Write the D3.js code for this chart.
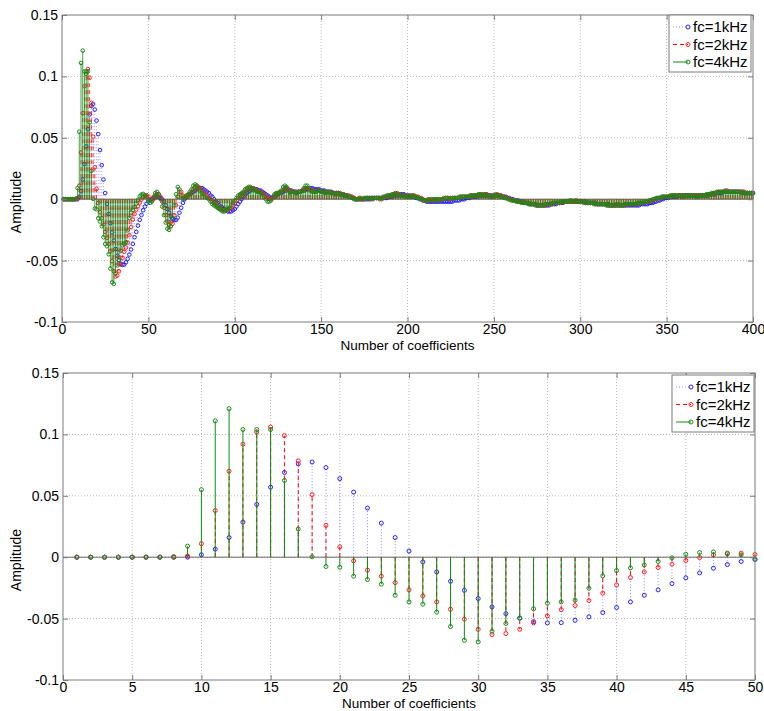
<!DOCTYPE html>
<html>
<head>
<meta charset="utf-8">
<script src="https://cdn.jsdelivr.net/npm/d3@7/dist/d3.min.js"></script>
<style>
  body { margin: 0; background: #fff; }
  svg { display: block; font-family: "Liberation Sans", Arial, sans-serif; }
</style>
</head>
<body>
<div class="box"></div>
<script>
// amplitude of coefficient 1..400 for each cut-off frequency
const fc1k = [
  0, 0, 0, 0, 0, 0, 0, 0, 0, 0.002,
  0.0065, 0.016, 0.0285, 0.043, 0.057, 0.069, 0.076, 0.0775, 0.073, 0.064,
  0.053, 0.040, 0.0277, 0.016, 0.005, -0.0038, -0.012, -0.0196, -0.027, -0.0337,
  -0.0405, -0.046, -0.0497, -0.0525, -0.0535, -0.0533, -0.0514, -0.0486, -0.0451, -0.041,
  -0.0364, -0.031, -0.0266, -0.0215, -0.0168, -0.0128, -0.009, -0.006, -0.0035, -0.0019,
  -0.001, 0.000, 0.001, 0.002, 0.002, 0.002, 0.001, 0.000, -0.002, -0.005,
  -0.008, -0.011, -0.014, -0.016, -0.017, -0.017, -0.015, -0.011, -0.007, -0.003,
  0.000, 0.002, 0.003, 0.004, 0.005, 0.006, 0.007, 0.008, 0.009, 0.009,
  0.009, 0.008, 0.007, 0.006, 0.005, 0.003, 0.002, 0.000, -0.002, -0.003,
  -0.005, -0.006, -0.007, -0.008, -0.009, -0.010, -0.010, -0.010, -0.009, -0.008,
  -0.006, -0.004, -0.002, 0.000, 0.002, 0.004, 0.005, 0.006, 0.007, 0.008,
  0.008, 0.008, 0.008, 0.007, 0.007, 0.006, 0.005, 0.004, 0.003, 0.002,
  0.001, 0.001, 0.002, 0.003, 0.004, 0.005, 0.005, 0.006, 0.007, 0.008,
  0.008, 0.007, 0.007, 0.006, 0.006, 0.006, 0.006, 0.006, 0.007, 0.007,
  0.008, 0.008, 0.009, 0.009, 0.009, 0.008, 0.008, 0.008, 0.008, 0.007,
  0.007, 0.007, 0.006, 0.006, 0.006, 0.006, 0.005, 0.005, 0.005, 0.005,
  0.004, 0.004, 0.004, 0.003, 0.003, 0.002, 0.002, 0.001, 0.001, 0.000,
  0.000, 0.000, 0.000, 0.000, 0.000, 0.000, 0.000, 0.000, 0.001, 0.001,
  0.001, 0.001, 0.001, 0.001, 0.001, 0.001, 0.001, 0.001, 0.002, 0.002,
  0.002, 0.003, 0.003, 0.003, 0.004, 0.004, 0.004, 0.004, 0.003, 0.003,
  0.003, 0.002, 0.002, 0.002, 0.001, 0.001, 0.000, 0.000, -0.001, -0.001,
  -0.002, -0.002, -0.002, -0.002, -0.002, -0.002, -0.002, -0.002, -0.002, -0.002,
  -0.002, -0.002, -0.002, -0.002, -0.002, -0.002, -0.001, -0.001, -0.001, -0.001,
  0.000, 0.000, 0.000, 0.001, 0.001, 0.001, 0.002, 0.002, 0.002, 0.002,
  0.003, 0.003, 0.003, 0.003, 0.003, 0.003, 0.003, 0.003, 0.003, 0.003,
  0.003, 0.003, 0.003, 0.003, 0.002, 0.002, 0.002, 0.001, 0.001, 0.000,
  0.000, -0.001, -0.001, -0.001, -0.002, -0.002, -0.002, -0.003, -0.003, -0.003,
  -0.004, -0.004, -0.004, -0.004, -0.005, -0.005, -0.005, -0.005, -0.005, -0.005,
  -0.005, -0.005, -0.004, -0.004, -0.004, -0.004, -0.003, -0.003, -0.003, -0.003,
  -0.002, -0.002, -0.002, -0.002, -0.002, -0.002, -0.002, -0.002, -0.002, -0.002,
  -0.002, -0.002, -0.002, -0.003, -0.003, -0.003, -0.003, -0.003, -0.003, -0.004,
  -0.004, -0.004, -0.004, -0.004, -0.004, -0.004, -0.005, -0.005, -0.005, -0.005,
  -0.005, -0.005, -0.005, -0.005, -0.005, -0.005, -0.005, -0.005, -0.005, -0.005,
  -0.005, -0.005, -0.005, -0.005, -0.004, -0.004, -0.004, -0.004, -0.004, -0.003,
  -0.003, -0.003, -0.002, -0.002, -0.001, -0.001, 0.000, 0.000, 0.001, 0.001,
  0.001, 0.002, 0.002, 0.002, 0.002, 0.002, 0.003, 0.003, 0.003, 0.003,
  0.003, 0.003, 0.003, 0.003, 0.003, 0.003, 0.003, 0.003, 0.003, 0.003,
  0.003, 0.003, 0.003, 0.003, 0.004, 0.004, 0.004, 0.004, 0.005, 0.005,
  0.005, 0.005, 0.006, 0.006, 0.006, 0.006, 0.006, 0.006, 0.006, 0.006,
  0.006, 0.006, 0.006, 0.006, 0.005, 0.005, 0.005, 0.005, 0.005, 0.005
]
const fc2k = [
  0, 0, 0, 0, 0, 0, 0, 0, 0.001, 0.011,
  0.038, 0.070, 0.092, 0.102, 0.106, 0.099, 0.0785, 0.051, 0.026, 0.0084,
  -0.003, -0.0106, -0.0155, -0.0207, -0.0266, -0.0315, -0.0364, -0.0424, -0.0505, -0.0587,
  -0.063, -0.0622, -0.0587, -0.0535, -0.0478, -0.0427, -0.0394, -0.0353, -0.0293, -0.0226,
  -0.0166, -0.012, -0.0084, -0.0057, -0.0027, -0.0003, 0.0019, 0.0027, 0.0033, 0.0022,
  0.000, -0.001, 0.000, 0.003, 0.004, 0.004, 0.002, -0.002, -0.007, -0.013,
  -0.018, -0.021, -0.022, -0.020, -0.013, -0.005, 0.002, 0.006, 0.006, 0.003,
  0.002, 0.002, 0.003, 0.004, 0.006, 0.008, 0.010, 0.011, 0.010, 0.009,
  0.007, 0.005, 0.004, 0.003, 0.001, 0.000, -0.002, -0.003, -0.005, -0.006,
  -0.007, -0.008, -0.009, -0.009, -0.009, -0.009, -0.008, -0.007, -0.005, -0.003,
  -0.001, 0.001, 0.003, 0.004, 0.005, 0.006, 0.008, 0.009, 0.009, 0.009,
  0.009, 0.008, 0.007, 0.006, 0.006, 0.005, 0.004, 0.002, 0.001, 0.000,
  0.000, 0.001, 0.003, 0.004, 0.005, 0.005, 0.006, 0.007, 0.009, 0.009,
  0.008, 0.006, 0.006, 0.006, 0.006, 0.005, 0.006, 0.006, 0.007, 0.008,
  0.009, 0.009, 0.009, 0.008, 0.007, 0.006, 0.006, 0.007, 0.007, 0.006,
  0.006, 0.006, 0.005, 0.006, 0.006, 0.005, 0.005, 0.005, 0.004, 0.005,
  0.005, 0.004, 0.004, 0.003, 0.003, 0.003, 0.002, 0.002, 0.001, 0.000,
  0.000, 0.000, 0.001, 0.000, 0.000, 0.001, 0.001, 0.001, 0.001, 0.000,
  0.001, 0.001, 0.001, 0.001, 0.000, 0.001, 0.002, 0.002, 0.003, 0.003,
  0.003, 0.004, 0.004, 0.005, 0.004, 0.003, 0.003, 0.003, 0.003, 0.002,
  0.002, 0.002, 0.003, 0.003, 0.002, 0.002, 0.001, 0.001, 0.000, -0.001,
  -0.001, -0.001, 0.000, -0.001, 0.000, -0.001, 0.000, 0.000, -0.001, 0.000,
  0.000, 0.001, 0.001, 0.001, 0.000, 0.001, 0.001, 0.001, 0.001, 0.001,
  0.002, 0.002, 0.002, 0.002, 0.002, 0.002, 0.003, 0.003, 0.003, 0.003,
  0.003, 0.004, 0.004, 0.003, 0.004, 0.004, 0.003, 0.003, 0.002, 0.002,
  0.003, 0.004, 0.003, 0.003, 0.002, 0.002, 0.001, 0.001, 0.000, 0.000,
  -0.001, -0.001, -0.001, -0.002, -0.002, -0.002, -0.003, -0.003, -0.003, -0.003,
  -0.004, -0.004, -0.004, -0.004, -0.005, -0.005, -0.005, -0.005, -0.005, -0.005,
  -0.004, -0.004, -0.004, -0.004, -0.003, -0.003, -0.003, -0.003, -0.003, -0.002,
  -0.002, -0.002, -0.002, -0.002, -0.001, -0.002, -0.002, -0.001, -0.002, -0.002,
  -0.002, -0.002, -0.003, -0.003, -0.003, -0.003, -0.003, -0.003, -0.004, -0.004,
  -0.004, -0.004, -0.004, -0.004, -0.004, -0.005, -0.005, -0.005, -0.005, -0.005,
  -0.005, -0.004, -0.005, -0.005, -0.005, -0.005, -0.004, -0.004, -0.004, -0.004,
  -0.004, -0.004, -0.004, -0.003, -0.003, -0.003, -0.003, -0.002, -0.002, -0.002,
  -0.001, -0.001, 0.000, 0.000, 0.001, 0.001, 0.001, 0.002, 0.002, 0.002,
  0.002, 0.002, 0.003, 0.003, 0.003, 0.003, 0.003, 0.003, 0.003, 0.002,
  0.003, 0.003, 0.003, 0.003, 0.003, 0.003, 0.003, 0.002, 0.003, 0.003,
  0.003, 0.003, 0.003, 0.004, 0.004, 0.004, 0.005, 0.005, 0.005, 0.006,
  0.006, 0.006, 0.006, 0.006, 0.007, 0.006, 0.006, 0.006, 0.006, 0.006,
  0.006, 0.006, 0.006, 0.005, 0.006, 0.005, 0.005, 0.005, 0.005, 0.005
]
const fc4k = [
  0, 0, 0, 0, 0, 0, 0, 0.0005, 0.009, 0.055,
  0.111, 0.121, 0.104, 0.104, 0.104, 0.0625, 0.023, 0.0003, -0.0076, -0.0082,
  -0.0155, -0.0182, -0.022, -0.031, -0.0364, -0.0383, -0.0448, -0.0565, -0.0677, -0.069,
  -0.0603, -0.054, -0.0495, -0.042, -0.0375, -0.0364, -0.035, -0.0253, -0.0152, -0.0109,
  -0.0087, -0.0063, -0.0035, -0.0005, 0.0024, 0.0038, 0.0043, 0.0033, 0.0019, -0.0016,
  -0.003, -0.002, 0.002, 0.005, 0.006, 0.004, 0.000, -0.006, -0.013, -0.019,
  -0.024, -0.025, -0.022, -0.015, -0.005, 0.004, 0.010, 0.008, 0.003, 0.000,
  0.001, 0.003, 0.004, 0.006, 0.008, 0.011, 0.012, 0.011, 0.009, 0.007,
  0.005, 0.004, 0.002, 0.001, 0.000, -0.002, -0.004, -0.005, -0.006, -0.007,
  -0.008, -0.009, -0.010, -0.010, -0.009, -0.008, -0.007, -0.005, -0.003, -0.001,
  0.001, 0.003, 0.004, 0.005, 0.006, 0.008, 0.009, 0.010, 0.010, 0.009,
  0.008, 0.007, 0.006, 0.006, 0.005, 0.004, 0.002, 0.000, -0.002, -0.002,
  -0.001, 0.002, 0.004, 0.005, 0.005, 0.006, 0.007, 0.010, 0.011, 0.010,
  0.007, 0.005, 0.006, 0.006, 0.005, 0.005, 0.006, 0.006, 0.007, 0.009,
  0.011, 0.011, 0.009, 0.007, 0.006, 0.006, 0.006, 0.007, 0.007, 0.006,
  0.006, 0.005, 0.006, 0.006, 0.005, 0.005, 0.005, 0.004, 0.005, 0.005,
  0.004, 0.004, 0.003, 0.003, 0.003, 0.002, 0.002, 0.001, 0.000, 0.000,
  0.000, 0.001, 0.000, 0.000, 0.001, 0.001, 0.001, 0.001, 0.000, 0.001,
  0.001, 0.001, 0.001, 0.000, 0.001, 0.002, 0.002, 0.003, 0.003, 0.003,
  0.004, 0.004, 0.005, 0.004, 0.003, 0.003, 0.003, 0.003, 0.002, 0.002,
  0.002, 0.003, 0.003, 0.002, 0.002, 0.001, 0.001, 0.000, -0.001, -0.001,
  -0.001, 0.000, -0.001, 0.000, -0.001, 0.000, 0.000, -0.001, 0.000, 0.000,
  0.001, 0.001, 0.001, 0.000, 0.001, 0.001, 0.001, 0.001, 0.001, 0.002,
  0.002, 0.002, 0.002, 0.002, 0.002, 0.003, 0.003, 0.003, 0.003, 0.003,
  0.004, 0.004, 0.003, 0.004, 0.004, 0.003, 0.003, 0.002, 0.002, 0.003,
  0.004, 0.003, 0.003, 0.002, 0.002, 0.001, 0.001, 0.000, 0.000, -0.001,
  -0.001, -0.001, -0.002, -0.002, -0.002, -0.003, -0.003, -0.003, -0.003, -0.004,
  -0.004, -0.004, -0.004, -0.005, -0.005, -0.005, -0.005, -0.005, -0.005, -0.004,
  -0.004, -0.004, -0.004, -0.003, -0.003, -0.003, -0.003, -0.003, -0.002, -0.002,
  -0.002, -0.002, -0.002, -0.001, -0.002, -0.002, -0.001, -0.002, -0.002, -0.002,
  -0.002, -0.003, -0.003, -0.003, -0.003, -0.003, -0.003, -0.004, -0.004, -0.004,
  -0.004, -0.004, -0.004, -0.004, -0.005, -0.005, -0.005, -0.005, -0.005, -0.005,
  -0.004, -0.005, -0.005, -0.005, -0.005, -0.004, -0.004, -0.004, -0.004, -0.004,
  -0.004, -0.004, -0.003, -0.003, -0.003, -0.003, -0.002, -0.002, -0.002, -0.001,
  -0.001, 0.000, 0.000, 0.001, 0.001, 0.001, 0.002, 0.002, 0.002, 0.002,
  0.002, 0.003, 0.003, 0.003, 0.003, 0.003, 0.003, 0.003, 0.002, 0.003,
  0.003, 0.003, 0.003, 0.003, 0.003, 0.003, 0.002, 0.003, 0.003, 0.003,
  0.003, 0.003, 0.004, 0.004, 0.004, 0.005, 0.005, 0.005, 0.006, 0.006,
  0.006, 0.006, 0.006, 0.007, 0.006, 0.006, 0.006, 0.006, 0.006, 0.006,
  0.006, 0.006, 0.005, 0.006, 0.005, 0.005, 0.005, 0.005, 0.005, 0.005
]

const seriesNames = ["fc=1kHz", "fc=2kHz", "fc=4kHz"]
const yTicks = [-0.1, -0.05, 0, 0.05, 0.1, 0.15]
const yTickLabels = ["-0.1", "-0.05", "0", "0.05", "0.1", "0.15"]
const xTicksAll = [0, 50, 100, 150, 200, 250, 300, 350, 400]
const xTicksZoom = [0, 5, 10, 15, 20, 25, 30, 35, 40, 45, 50]
const xLabel = "Number of coefficients"
const yLabel = "Amplitude"

const styles = [
    { mark: "#2020ff", stem: "#8a8aff", dash: "1,2" },
    { mark: "#ff2020", stem: "#ff0000", dash: "4,3" },
    { mark: "#1a8a1a", stem: "#108c10", dash: null }
]

const width = 764
const height = 711

const svg = d3.select('.box')
              .append('svg')
              .attr('width', width)
              .attr('height', height)

function drawPanel(p) {
    const x = d3.scaleLinear().domain([0, p.xMax]).range([p.left, p.right])
    const y = d3.scaleLinear().domain([-0.1, 0.15]).range([p.bottom, p.top])
    const g = svg.append('g')

    // dotted grid
    g.selectAll('.gx').data(p.xTicks.slice(1, -1)).enter()
        .append('line')
        .attr('x1', d => x(d)).attr('x2', d => x(d))
        .attr('y1', p.top).attr('y2', p.bottom)
        .attr('stroke', '#b8b8b8').attr('stroke-dasharray', '1,2')
    g.selectAll('.gy').data(yTicks.slice(1, -1)).enter()
        .append('line')
        .attr('x1', p.left).attr('x2', p.right)
        .attr('y1', d => y(d)).attr('y2', d => y(d))
        .attr('stroke', '#b8b8b8').attr('stroke-dasharray', '1,2')

    // stem baseline
    g.append('line')
        .attr('x1', p.left).attr('x2', p.right)
        .attr('y1', y(0)).attr('y2', y(0))
        .attr('stroke', '#6a6a6a').attr('stroke-width', 1)

    const all = [fc1k, fc2k, fc4k]
    all.forEach((vals, s) => {
        const data = vals.slice(0, p.n)
        const st = styles[s]
        g.append('g').selectAll('line').data(data).enter()
            .append('line')
            .attr('x1', (d, i) => x(i + 1)).attr('x2', (d, i) => x(i + 1))
            .attr('y1', y(0)).attr('y2', d => y(d))
            .attr('stroke', st.stem)
            .attr('stroke-width', p.stemWidth)
            .attr('stroke-dasharray', st.dash)
        g.append('g').selectAll('circle').data(data).enter()
            .append('circle')
            .attr('cx', (d, i) => x(i + 1))
            .attr('cy', d => y(d))
            .attr('r', p.r)
            .attr('fill', 'none')
            .attr('stroke', st.mark)
            .attr('stroke-width', 1)
    })

    // box and ticks
    g.append('rect')
        .attr('x', p.left).attr('y', p.top)
        .attr('width', p.right - p.left).attr('height', p.bottom - p.top)
        .attr('fill', 'none').attr('stroke', '#7a7a7a')

    const axB = g.append('g').attr('transform', `translate(0,${p.bottom})`)
        .call(d3.axisBottom(x).tickValues(p.xTicks).tickSize(-5).tickPadding(2).tickSizeOuter(0))
    const axT = g.append('g').attr('transform', `translate(0,${p.top})`)
        .call(d3.axisTop(x).tickValues(p.xTicks).tickSize(-5).tickFormat('').tickSizeOuter(0))
    const axL = g.append('g').attr('transform', `translate(${p.left},0)`)
        .call(d3.axisLeft(y).tickValues(yTicks).tickSize(-5).tickPadding(4).tickSizeOuter(0)
              .tickFormat((d, i) => yTickLabels[i]))
    const axR = g.append('g').attr('transform', `translate(${p.right},0)`)
        .call(d3.axisRight(y).tickValues(yTicks).tickSize(-5).tickFormat('').tickSizeOuter(0))
    ;[axB, axT, axL, axR].forEach(a => {
        a.select('.domain').remove()
        a.selectAll('line').attr('stroke', '#7a7a7a')
        a.selectAll('text').attr('fill', '#000').style('font-size', '14px')
         .style('font-family', '"Liberation Sans", Arial, sans-serif')
    })

    g.append('text')
        .attr('x', (p.left + p.right) / 2).attr('y', p.bottom + 27.5)
        .attr('text-anchor', 'middle')
        .style('font-size', '13.5px')
        .text(xLabel)
    g.append('text')
        .attr('transform', `translate(21,${p.top + 187}) rotate(-90)`)
        .attr('text-anchor', 'middle')
        .style('font-size', '14px')
        .text(yLabel)

    // legend
    const lg = g.append('g').attr('transform', `translate(${p.legX},${p.legY})`)
    lg.append('rect')
        .attr('width', p.legW).attr('height', 57)
        .attr('fill', '#fff').attr('stroke', '#7a7a7a')
    seriesNames.forEach((name, s) => {
        const st = styles[s]
        const yy = 12 + s * 17.5
        lg.append('line')
            .attr('x1', 4).attr('x2', 19).attr('y1', yy).attr('y2', yy)
            .attr('stroke', st.stem).attr('stroke-dasharray', st.dash)
        lg.append('circle')
            .attr('cx', 19).attr('cy', yy).attr('r', 2)
            .attr('fill', 'none').attr('stroke', st.mark)
        lg.append('text')
            .attr('x', 24).attr('y', yy + 5)
            .style('font-size', '15px')
            .text(name)
    })
}

drawPanel({ top: 15, bottom: 322, left: 62, right: 753, xMax: 400, n: 400,
            xTicks: xTicksAll, stemWidth: 0.8, r: 1.8, legX: 669, legY: 15, legW: 82 })
drawPanel({ top: 373, bottom: 680, left: 63, right: 755, xMax: 50, n: 50,
            xTicks: xTicksZoom, stemWidth: 1, r: 2, legX: 672, legY: 375, legW: 82 })
</script>
</body>
</html>
